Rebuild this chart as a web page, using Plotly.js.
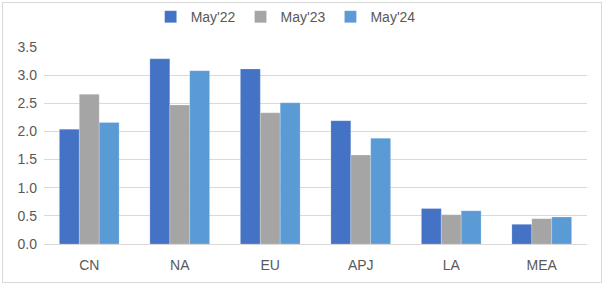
<!DOCTYPE html>
<html><head><meta charset="utf-8">
<script src="https://cdn.plot.ly/plotly-3.0.1.min.js"></script>
<style>html,body{margin:0;padding:0;background:#fff;}#wrap{position:relative;width:604px;height:285px;}#chart{width:604px;height:285px;}#frame{position:absolute;left:2px;top:2px;width:598px;height:279px;border:1px solid #d9d9d9;pointer-events:none;}</style>
</head><body><div id="wrap"><div id="chart"></div><div id="frame"></div></div>
<script>
const categories = ["CN","NA","EU","APJ","LA","MEA"];
const may22 = [2.04,3.29,3.11,2.19,0.63,0.35];
const may23 = [2.66,2.47,2.33,1.58,0.52,0.45];
const may24 = [2.16,3.08,2.51,1.88,0.59,0.48];
const seriesNames = ["May'22","May'23","May'24"];
const colors = ["#4472C4","#A5A5A5","#5B9BD5"];
const yTicks = [0,0.5,1,1.5,2,2.5,3,3.5];
const yTickText = ["0.0","0.5","1.0","1.5","2.0","2.5","3.0","3.5"];
const vals=[may22,may23,may24];
const data = vals.map((v,i)=>({type:'bar',x:categories,y:v,name:seriesNames[i],marker:{color:colors[i],line:{color:'rgba(255,255,255,0.4)',width:0.5}},hoverinfo:'x+y'}));
Plotly.newPlot('chart',data,{
  width:604,height:285,
  margin:{l:44,r:17,t:47,b:41},
  paper_bgcolor:'#fff',plot_bgcolor:'#fff',
  font:{family:'Liberation Sans, Arial, sans-serif',size:14,color:'#595959'},
  barmode:'group',bargap:0.34,bargroupgap:0,
  showlegend:true,
  legend:{orientation:'h',x:0.445,xanchor:'center',y:0.94,yref:'container',yanchor:'middle',font:{size:14,color:'#595959'},traceorder:'normal',itemwidth:30},
  xaxis:{showgrid:false,showline:true,linecolor:'#d9d9d9',linewidth:1,ticks:'',ticklabelstandoff:8,tickfont:{size:14,color:'#595959'},fixedrange:true},
  yaxis:{range:[0,3.5],tickvals:yTicks,ticktext:yTickText,showgrid:true,gridcolor:'#d9d9d9',gridwidth:1,zeroline:false,showline:false,ticks:'',ticklabelstandoff:6,tickfont:{size:14,color:'#595959'},fixedrange:true}
},{displayModeBar:false,staticPlot:true});
</script></body></html>
